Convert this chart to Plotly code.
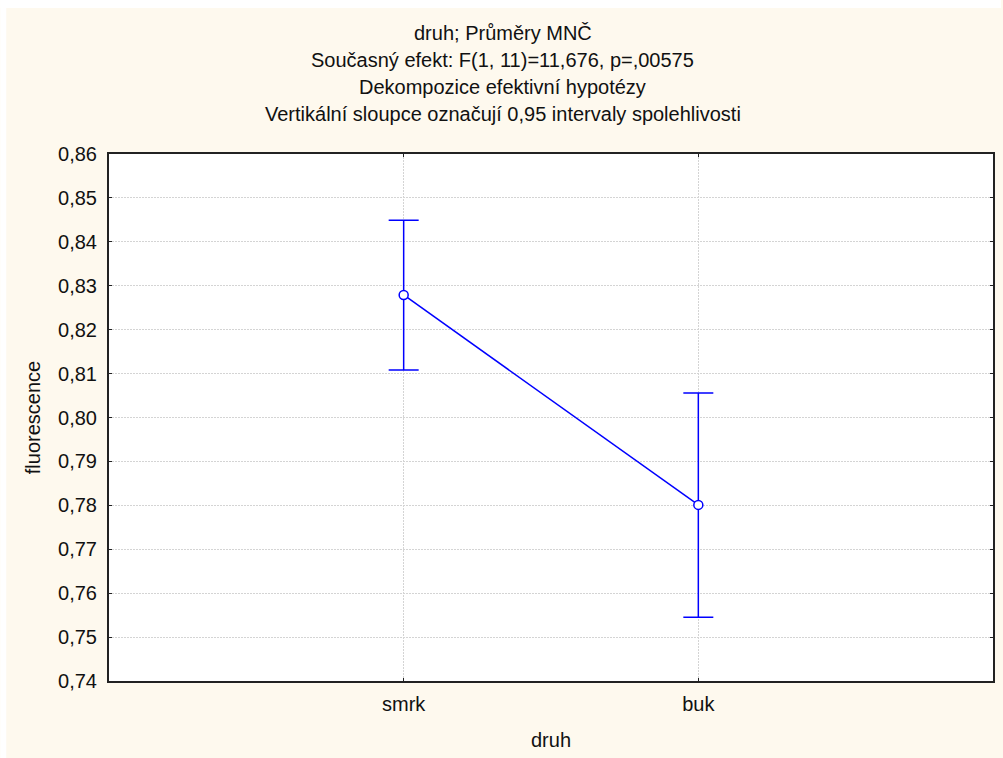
import plotly.graph_objects as go

categories = ["smrk", "buk"]
means = [0.8279, 0.7801]
ci_low = [0.8108, 0.7545]
ci_high = [0.8449, 0.8056]

title_lines = [
    "druh; Průměry MNČ",
    "Současný efekt: F(1, 11)=11,676, p=,00575",
    "Dekompozice efektivní hypotézy",
    "Vertikální sloupce označují 0,95 intervaly spolehlivosti",
]
y_ticks = [0.74, 0.75, 0.76, 0.77, 0.78, 0.79, 0.80, 0.81, 0.82, 0.83, 0.84, 0.85, 0.86]

W, H = 1003, 758
L, R, T, B = 109, 8, 154, 77
pw, ph = W - L - R, H - T - B

FONT = "Liberation Sans, Arial, sans-serif"
CREAM = "#FEF9EE"
BLUE = "#0000FF"
GRID = "#D4D4D4"
FS = 20

xs = list(range(len(categories)))
fig = go.Figure()
fig.add_trace(go.Scatter(
    x=xs, y=means, mode="lines+markers",
    line=dict(color=BLUE, width=1.5),
    marker=dict(symbol="circle", size=9, color="white", line=dict(color=BLUE, width=1.5)),
    error_y=dict(type="data", symmetric=False,
                 array=[h - m for h, m in zip(ci_high, means)],
                 arrayminus=[m - l for l, m in zip(ci_low, means)],
                 color=BLUE, thickness=1.5, width=15),
    showlegend=False,
    hoverinfo="skip",
))

def px_x(p):
    return (p - L) / pw

def px_y(p):
    return (H - B - p) / ph

shapes = [
    dict(type="rect", xref="paper", yref="paper", layer="below",
         x0=px_x(0), x1=px_x(6), y0=px_y(H), y1=px_y(0),
         fillcolor="white", line=dict(width=0)),
    dict(type="rect", xref="paper", yref="paper", layer="below",
         x0=px_x(0), x1=px_x(W), y0=px_y(8), y1=px_y(0),
         fillcolor="white", line=dict(width=0)),
]

annotations = []
for i, t in enumerate(title_lines):
    annotations.append(dict(
        text=t, xref="paper", yref="paper", x=(W / 2 + 2 - L) / pw, y=px_y(33 + 27 * i),
        xanchor="center", yanchor="middle", showarrow=False,
        font=dict(family=FONT, size=FS, color="#111"),
    ))

fig.update_layout(
    width=W, height=H,
    margin=dict(l=L, r=R, t=T, b=B, pad=0),
    paper_bgcolor=CREAM, plot_bgcolor="white",
    separators=", ",
    font=dict(family=FONT, size=FS, color="#111"),
    shapes=shapes, annotations=annotations,
    xaxis=dict(
        range=[-1, 2], tickvals=xs, ticktext=categories,
        showgrid=True, gridcolor=GRID, griddash="2px,1px", gridwidth=1,
        showline=True, linecolor="#222", linewidth=2, mirror="ticks",
        ticks="inside", ticklen=3, tickcolor="#222", zeroline=False,
        ticklabelstandoff=4,
        title=dict(text="druh", font=dict(size=FS), standoff=19),
        tickfont=dict(size=FS),
    ),
    yaxis=dict(
        range=[0.74, 0.86], tickvals=y_ticks, tickformat=".2f",
        showgrid=True, gridcolor=GRID, griddash="2px,1px", gridwidth=1,
        showline=True, linecolor="#222", linewidth=2, mirror="ticks",
        ticks="inside", ticklen=3, tickcolor="#222", zeroline=False,
        ticklabelstandoff=6,
        title=dict(text="fluorescence", font=dict(size=FS), standoff=12),
        tickfont=dict(size=FS),
    ),
)

fig.write_html("out.html", config={"displayModeBar": False},
               post_script="document.body.style.margin='0';")
